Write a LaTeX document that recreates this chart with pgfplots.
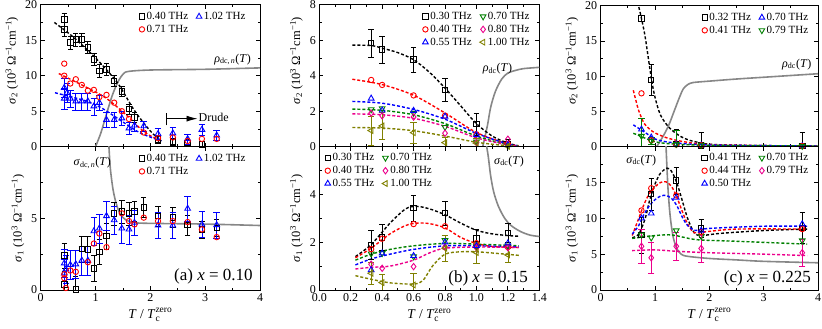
\documentclass[border=0pt]{standalone}
\usepackage{fontspec}
\setmainfont{Liberation Serif}
\usepackage{amsmath}
\usepackage{pgfplots}
\pgfplotsset{compat=1.18}
\usetikzlibrary{arrows.meta}

\definecolor{dgreen}{RGB}{0,128,0}
\definecolor{olivec}{RGB}{128,128,0}
\definecolor{dcgray}{RGB}{135,135,135}

\pgfplotsset{
  panel/.style={scale only axis, axis line style={line width=0.9pt},
    tick align=inside, major tick length=4pt, minor tick length=2.2pt,
    every tick/.style={black,line width=0.8pt},
    tick label style={font=\fontsize{12}{12}\selectfont},
    ylabel style={font=\fontsize{12.5}{12.5}\selectfont},
    xlabel style={font=\fontsize{13.5}{13.5}\selectfont},
    /pgf/number format/assume math mode=true,
    legend style={draw=none, fill=none, font=\fontsize{11}{11}\selectfont,
      legend columns=2, /tikz/every even column/.append style={column sep=6pt},
      inner sep=1pt, row sep=0pt},
  },
  toppanel/.style={panel, ylabel style={xshift=15pt}},
  dat/.style={only marks, mark size=2.7pt, line width=0.9pt, mark options={solid, fill=white}},
  err/.style={dat, error bars/y dir=both, error bars/y explicit,
    error bars/error bar style={line width=0.7pt}},
  fit/.style={dash pattern=on 3pt off 2pt, line width=1.4pt, no markers, forget plot, smooth},
  dcl/.style={dcgray, line width=1.6pt, no markers, forget plot, smooth},
}
\newcommand{\sigtwo}{\textit{σ}$_{\text{2}}$ (10$^{\text{3}}$ Ω$^{\text{−1}}$cm$^{\text{−1}}$)}
\newcommand{\sigone}{\textit{σ}$_{\text{1}}$ (10$^{\text{3}}$ Ω$^{\text{−1}}$cm$^{\text{−1}}$)}
\newcommand{\tlab}{\textit{T} / \textit{T}$_{\text{c}}^{\text{zero}}$}

\begin{document}
\begin{tikzpicture}
\useasboundingbox (0,0) rectangle (822pt,329pt);

% ---------- (a) top
\begin{axis}[toppanel, at={(40.7pt,182.3pt)}, anchor=south west, width=219.3pt, height=142pt,
  xmin=0, xmax=4, ymin=0, ymax=20, xtick={0,1,2,3,4}, xticklabels={}, minor x tick num=1,
  ytick={0,5,10,15,20}, minor y tick num=1, ylabel={\sigtwo},
  legend style={at={(0.444,0.97)}, anchor=north west}]
\addplot[dcl] coordinates {(1.0,0)(1.1,2)(1.2,4.6)(1.3,7.1)(1.4,9.0)(1.5,10.2)(1.6,10.6)(2.0,10.8)(3.0,10.9)(4.0,11.1)};
\addplot[fit, black] coordinates {(0.25,17.5)(0.6,15.4)(1.0,12.5)(1.4,9.0)(1.7,5.2)(2.0,2.2)(2.2,0.8)};
\addplot[fit, red] coordinates {(0.33,10.3)(0.8,8.5)(1.2,6.8)(1.6,4.2)(1.9,2.0)(2.2,0.8)};
\addplot[fit, blue] coordinates {(0.26,7.6)(0.8,6.5)(1.1,5.5)(1.4,4.0)(1.8,2.0)(2.2,0.8)};
\addplot[err, black, mark=square] coordinates {
 (0.43,17.9)+-(0,0.9) (0.43,16.5)+-(0,1.0) (0.54,14.7)+-(0,0.9) (0.64,15.1)+-(0,0.9)
 (0.75,15.1)+-(0,0.9) (0.86,14.0)+-(0,0.8) (0.97,12.3)+-(0,0.8) (1.07,10.7)+-(0,0.9)
 (1.20,10.9)+-(0,0.8) (1.34,9.3)+-(0,0.8) (1.48,7.8)+-(0,0.7) (1.61,5.3)+-(0,0.7)
 (1.71,4.1)+-(0,0.7) (2.14,1.0)+-(0,0.5) (2.41,0.7)+-(0,0.5) (2.68,0.5)+-(0,0.5) (2.94,0.3)+-(0,0.5)};
\addlegendentry{0.40 THz}
\addplot[err, blue, mark=triangle, mark size=3.3pt] coordinates {
 (0.43,8.3)+-(0,1.3) (0.43,6.8)+-(0,1.5) (0.48,7.6)+-(0,1.3) (0.54,6.8)+-(0,1.2) (0.64,6.4)+-(0,1.2)
 (0.75,6.4)+-(0,1.2) (0.86,6.4)+-(0,1.2) (0.97,5.7)+-(0,1.2) (1.07,6.2)+-(0,1.0) (1.20,3.8)+-(0,1.0)
 (1.34,3.8)+-(0,1.0) (1.48,4.0)+-(0,1.0) (1.61,2.6)+-(0,0.8) (1.71,3.0)+-(0,0.8) (1.88,2.9)+-(0,0.7)
 (2.14,1.8)+-(0,0.8) (2.41,1.9)+-(0,0.8) (2.68,1.1)+-(0,0.7) (2.94,2.4)+-(0,0.8) (3.21,1.6)+-(0,0.7)};
\addlegendentry{1.02 THz}
\addplot[dat, red, mark=o] coordinates {
 (0.43,11.7)(0.43,10.0)(0.54,8.9)(0.64,9.5)(0.75,8.7)(0.86,7.9)(0.97,8.0)(1.07,7.0)(1.20,7.3)
 (1.34,6.2)(1.48,5.0)(1.61,3.9)(1.88,2.0)(2.14,1.2)(2.41,1.3)(2.68,0.8)(2.94,1.1)(3.21,1.1)};
\addlegendentry{0.71 THz}
\node[font=\fontsize{12}{12}\selectfont] at (axis cs:3.5,12.3) {\textit{ρ}$_{\text{dc,\,\textit{n}}}$(\textit{T})};
\draw[line width=0.8pt] (axis cs:2.3,3.0) -- (axis cs:2.3,4.7);
\draw[line width=0.8pt, -{Latex[length=11pt,width=6pt]}] (axis cs:2.3,3.95) -- (axis cs:2.86,3.95);
\node[font=\fontsize{12}{12}\selectfont, anchor=west, inner sep=1pt] at (axis cs:2.86,4.1) {Drude};
\end{axis}

% ---------- (a) bottom
\begin{axis}[panel, at={(40.7pt,39pt)}, anchor=south west, width=219.3pt, height=143.3pt,
  xmin=0, xmax=4, ymin=0, ymax=10, xtick={0,1,2,3,4}, minor x tick num=1,
  ytick={0,5}, minor ytick={2.5,7.5}, ylabel={\sigone}, xlabel={\tlab},
  legend style={at={(0.444,0.97)}, anchor=north west}]
\addplot[dcl] coordinates {(1.24,10.3)(1.27,8.5)(1.32,7.0)(1.38,6.0)(1.45,5.3)(1.55,4.9)(1.7,4.7)(2.0,4.65)(3.0,4.6)(4.0,4.5)};
\addplot[err, black, mark=square] coordinates {
 (0.43,2.4)+-(0,0.9) (0.43,0.4)+-(0,0.9) (0.64,0.05)+-(0,0.9) (0.75,2.87)+-(0,0.9) (0.86,2.83)+-(0,0.9)
 (0.97,1.5)+-(0,0.9) (1.07,2.67)+-(0,0.9) (1.20,3.78)+-(0,0.9) (1.34,5.35)+-(0,0.8) (1.48,5.47)+-(0,0.8)
 (1.61,5.35)+-(0,0.8) (1.71,5.47)+-(0,0.7) (1.88,5.75)+-(0,0.7) (2.14,5.17)+-(0,0.7) (2.41,5.05)+-(0,0.7)
 (2.68,4.54)+-(0,0.7) (2.94,4.23)+-(0,0.6) (3.21,4.35)+-(0,0.6)};
\addlegendentry{0.40 THz}
\addplot[err, blue, mark=triangle, mark size=3.3pt] coordinates {
 (0.43,1.17)+-(0,1.0) (0.43,1.87)+-(0,1.0) (0.46,1.45)+-(0,1.0) (0.54,1.76)+-(0,1.0) (0.64,1.8)+-(0,1.0)
 (0.75,2.06)+-(0,1.0) (0.86,2.06)+-(0,1.0) (0.97,4.11)+-(0,1.0) (1.07,4.3)+-(0,1.0) (1.20,5.17)+-(0,1.0)
 (1.34,4.88)+-(0,1.0) (1.48,4.3)+-(0,1.0) (1.61,4.23)+-(0,1.0) (1.71,4.7)+-(0,0.9) (2.14,4.51)+-(0,0.9)
 (2.41,4.51)+-(0,0.9) (2.68,5.68)+-(0,0.9) (2.94,4.58)+-(0,0.9) (3.21,4.54)+-(0,0.9)};
\addlegendentry{1.02 THz}
\addplot[dat, red, mark=o] coordinates {
 (0.43,1.1)(0.43,0.82)(0.46,0.14)(0.54,1.36)(0.64,1.27)(0.86,1.94)(0.97,3.24)(1.07,3.94)(1.20,2.99)
 (1.48,5.35)(1.61,4.81)(1.71,4.58)(1.88,5.05)(2.14,4.81)(2.41,4.81)(2.68,4.74)(2.94,4.23)(3.21,3.69)};
\addlegendentry{0.71 THz}
\node[font=\fontsize{12}{12}\selectfont] at (axis cs:0.94,8.87) {\textit{σ}$_{\text{dc,\,\textit{n}}}$(\textit{T})};
\node[font=\fontsize{17}{17}\selectfont] at (axis cs:3.15,0.95) {(a) \textit{x} = 0.10};
\end{axis}

% ---------- (b) top
\begin{axis}[toppanel, at={(319.3pt,182.3pt)}, anchor=south west, width=220pt, height=142pt,
  xmin=0, xmax=1.4, ymin=0, ymax=8, xtick={0,0.2,...,1.4}, xticklabels={}, minor x tick num=1,
  ytick={0,2,4,6,8}, minor y tick num=1, ylabel={\sigtwo},
  legend style={at={(0.97,0.97)}, anchor=north east}]
\addplot[dcl] coordinates {(1.04,0)(1.07,1.2)(1.09,2.2)(1.12,3.1)(1.16,3.8)(1.2,4.15)(1.25,4.3)(1.3,4.4)(1.4,4.47)};
\addplot[fit, black] coordinates {(0.21,5.72)(0.33,5.7)(0.4,5.55)(0.5,5.3)(0.6,4.9)(0.7,4.2)(0.8,3.3)(0.9,2.3)(1.0,1.3)(1.1,0.6)(1.2,0.2)(1.27,0.05)};
\addplot[fit, red] coordinates {(0.21,3.8)(0.4,3.5)(0.6,2.9)(0.8,1.9)(1.0,0.8)(1.2,0.15)(1.27,0.05)};
\addplot[fit, blue] coordinates {(0.21,2.55)(0.4,2.45)(0.6,2.1)(0.8,1.55)(1.0,0.75)(1.2,0.15)(1.27,0.05)};
\addplot[fit, dgreen] coordinates {(0.21,2.12)(0.4,2.05)(0.6,1.8)(0.8,1.3)(1.0,0.6)(1.2,0.1)(1.27,0.03)};
\addplot[fit, magenta] coordinates {(0.21,1.85)(0.4,1.8)(0.6,1.6)(0.8,1.15)(1.0,0.5)(1.2,0.1)(1.27,0.03)};
\addplot[fit, olivec] coordinates {(0.21,1.08)(0.4,1.05)(0.6,0.9)(0.8,0.6)(1.0,0.25)(1.2,0.05)(1.27,0.02)};
\addplot[err, black, mark=square] coordinates {
 (0.33,5.83)+-(0,0.8) (0.4,5.48)+-(0,0.75) (0.6,4.92)+-(0,0.7) (0.8,3.21)+-(0,0.65) (1.0,1.27)+-(0,0.6) (1.2,0.15)+-(0,0.3)};
\addlegendentry{0.30 THz}
\addplot[dat, dgreen, mark=triangle, mark size=3.3pt, mark options={solid, fill=white, rotate=180}] coordinates {
 (0.33,2.1)(0.4,2.16)(0.6,1.9)(0.8,1.1)(1.0,0.28)(1.2,0.05)};
\addlegendentry{0.70 THz}
\addplot[dat, red, mark=o] coordinates {(0.33,3.76)(0.4,3.48)(0.6,2.89)(0.8,1.75)(1.0,0.7)(1.2,0.15)};
\addlegendentry{0.40 THz}
\addplot[dat, magenta, mark=diamond, mark size=3.2pt] coordinates {(0.33,1.89)(0.4,1.74)(0.6,1.67)(0.8,0.76)(1.0,0.23)(1.2,0.42)};
\addlegendentry{0.80 THz}
\addplot[dat, blue, mark=triangle, mark size=3.3pt] coordinates {(0.33,2.72)(0.4,2.05)(0.6,2.03)(0.8,1.70)(1.0,0.66)(1.2,0.1)};
\addlegendentry{0.55 THz}
\addplot[err, olivec, mark=triangle, mark size=3.3pt, mark options={solid, fill=white, rotate=90}] coordinates {
 (0.33,0.91)+-(0,0.8) (0.4,1.17)+-(0,0.75) (0.6,0.79)+-(0,0.6) (0.8,0.23)+-(0,0.3) (1.0,0.2)+-(0,0.3) (1.2,0.02)+-(0,0.2)};
\addlegendentry{1.00 THz}
\node[font=\fontsize{12}{12}\selectfont] at (axis cs:1.134,4.41) {\textit{ρ}$_{\text{dc}}$(\textit{T})};
\end{axis}

% ---------- (b) bottom
\begin{axis}[panel, at={(319.3pt,39pt)}, anchor=south west, width=220pt, height=143.3pt,
  xmin=0, xmax=1.4, ymin=0, ymax=6, xtick={0,0.2,...,1.4}, minor x tick num=1,
  xticklabel style={/pgf/number format/.cd, fixed, fixed zerofill, precision=1},
  ytick={0,2,4}, minor ytick={1,3,5}, ylabel={\sigone}, xlabel={\tlab},
  legend style={at={(0.02,0.975)}, anchor=north west}]
\addplot[dcl] coordinates {(1.06,6.2)(1.075,5.6)(1.09,4.8)(1.11,4.1)(1.14,3.5)(1.18,3.0)(1.22,2.7)(1.28,2.45)(1.34,2.3)(1.4,2.24)};
\addplot[fit, black] coordinates {(0.23,1.4)(0.33,1.9)(0.45,2.8)(0.55,3.4)(0.62,3.5)(0.7,3.4)(0.8,3.15)(0.9,2.8)(1.0,2.5)(1.1,2.35)(1.2,2.28)(1.27,2.25)};
\addplot[fit, red] coordinates {(0.23,1.35)(0.33,1.75)(0.45,2.35)(0.55,2.7)(0.62,2.8)(0.7,2.78)(0.8,2.6)(0.9,2.2)(1.0,1.95)(1.1,1.82)(1.27,1.78)};
\addplot[fit, dgreen] coordinates {(0.23,1.25)(0.33,1.5)(0.45,1.7)(0.6,1.85)(0.8,1.95)(1.0,1.92)(1.27,1.85)};
\addplot[fit, blue] coordinates {(0.23,1.05)(0.33,1.3)(0.45,1.5)(0.6,1.7)(0.8,1.85)(1.0,1.85)(1.27,1.8)};
\addplot[fit, magenta] coordinates {(0.23,0.88)(0.33,0.95)(0.45,1.0)(0.6,1.25)(0.7,1.55)(0.8,1.75)(1.0,1.8)(1.27,1.78)};
\addplot[fit, olivec] coordinates {(0.23,0.6)(0.33,0.45)(0.45,0.3)(0.6,0.25)(0.66,0.4)(0.72,1.0)(0.8,1.5)(0.9,1.6)(1.0,1.6)(1.1,1.55)(1.27,1.45)};
\addplot[err, black, mark=square] coordinates {
 (0.33,1.89)+-(0,0.6) (0.4,2.2)+-(0,0.55) (0.6,3.44)+-(0,0.55) (0.8,3.23)+-(0,0.5) (1.0,2.15)+-(0,0.4) (1.2,2.39)+-(0,0.4)};
\addlegendentry{0.30 THz}
\addplot[dat, dgreen, mark=triangle, mark size=3.3pt, mark options={solid, fill=white, rotate=180}] coordinates {
 (0.33,1.52)(0.4,1.54)(0.6,1.40)(0.8,2.08)(1.0,1.82)(1.2,1.85)};
\addlegendentry{0.70 THz}
\addplot[dat, red, mark=o] coordinates {(0.33,1.71)(0.4,2.15)(0.6,2.76)(0.8,2.67)(1.0,1.96)(1.2,1.80)};
\addlegendentry{0.40 THz}
\addplot[dat, magenta, mark=diamond, mark size=3.2pt] coordinates {(0.33,1.08)(0.4,0.91)(0.6,0.98)(0.8,1.80)(1.0,1.77)(1.2,1.77)};
\addlegendentry{0.80 THz}
\addplot[dat, blue, mark=triangle, mark size=3.3pt] coordinates {(0.33,0.84)(0.4,1.54)(0.6,1.43)(0.8,2.0)(1.0,1.85)(1.2,1.96)};
\addlegendentry{0.55 THz}
\addplot[err, olivec, mark=triangle, mark size=3.3pt, mark options={solid, fill=white, rotate=90}] coordinates {
 (0.33,0.70)+-(0,0.45) (0.4,0.31)+-(0,0.35) (0.6,0.21)+-(0,0.5) (0.8,1.75)+-(0,0.55) (1.0,1.57)+-(0,0.45) (1.2,1.47)+-(0,0.3)};
\addlegendentry{1.00 THz}
\node[font=\fontsize{12}{12}\selectfont] at (axis cs:1.207,5.39) {\textit{σ}$_{\text{dc}}$(\textit{T})};
\node[font=\fontsize{17}{17}\selectfont] at (axis cs:1.074,0.48) {(b) \textit{x} = 0.15};
\end{axis}

% ---------- (c) top
\begin{axis}[toppanel, at={(600.7pt,182.3pt)}, anchor=south west, width=217.3pt, height=141pt,
  xmin=0, xmax=4, ymin=0, ymax=20, xtick={0,1,2,3,4}, xticklabels={}, minor x tick num=1,
  ytick={0,5,10,15,20}, minor y tick num=1, ylabel={\sigtwo},
  legend style={at={(0.97,0.97)}, anchor=north east}]
\addplot[dcl] coordinates {(1.03,0)(1.15,1.5)(1.25,3.0)(1.35,5.0)(1.45,7.0)(1.52,8.2)(1.6,8.8)(1.7,9.1)(2.0,9.3)(2.5,9.6)(3.0,9.85)(3.5,10.1)(4.0,10.35)};
\addplot[fit, black] coordinates {(0.68,20.5)(0.75,18.2)(0.82,15.5)(0.93,9.8)(1.0,7.0)(1.1,4.5)(1.25,2.8)(1.43,1.65)(1.6,1.0)(1.8,0.6)(2.0,0.35)(2.5,0.2)(3.0,0.15)(4.0,0.1)};
\addplot[fit, red] coordinates {(0.6,8.0)(0.65,6.5)(0.7,5.1)(0.8,3.3)(0.9,2.5)(1.0,1.95)(1.2,1.3)(1.4,0.9)(1.7,0.5)(2.0,0.3)(3.0,0.15)(4.0,0.1)};
\addplot[fit, blue] coordinates {(0.6,3.1)(0.7,2.6)(0.82,2.0)(1.0,1.1)(1.2,0.7)(1.5,0.45)(2.0,0.25)(3.0,0.15)(4.0,0.1)};
\addplot[fit, dgreen] coordinates {(0.6,1.9)(0.7,1.6)(0.82,1.2)(1.0,0.7)(1.3,0.4)(2.0,0.2)(4.0,0.1)};
\addplot[err, black, mark=square] coordinates {
 (0.75,18.2)+-(0,0.4) (0.93,9.46)+-(0,2.2) (1.39,0.38)+-(0,2.1) (1.85,0.2)+-(0,1.8) (3.71,0.1)+-(0,1.9)};
\addlegendentry{0.32 THz}
\addplot[dat, blue, mark=triangle, mark size=3.3pt] coordinates {(0.75,2.46)(0.93,1.33)(1.39,0.35)(1.85,0.2)(3.71,0.1)};
\addlegendentry{0.70 THz}
\addplot[dat, red, mark=o] coordinates {(0.75,7.57)(0.93,0.9)(1.39,0.3)(1.85,0.2)(3.71,0.1)};
\addlegendentry{0.41 THz}
\addplot[err, dgreen, mark=triangle, mark size=3.3pt, mark options={solid, fill=white, rotate=180}] coordinates {
 (0.75,1.52)+-(0,2.5) (0.93,0.8)+-(0,0.5) (1.39,0.35)+-(0,2.0) (1.85,0.25)+-(0,0.3) (3.71,0.1)+-(0,0.2)};
\addlegendentry{0.79 THz}
\node[font=\fontsize{12}{12}\selectfont] at (axis cs:3.61,11.7) {\textit{ρ}$_{\text{dc}}$(\textit{T})};
\end{axis}

% ---------- (c) bottom
\begin{axis}[panel, at={(600.7pt,39pt)}, anchor=south west, width=217.3pt, height=143.3pt,
  xmin=0, xmax=4, ymin=0, ymax=20, xtick={0,1,2,3,4}, minor x tick num=1,
  ytick={0,5,10,15}, minor ytick={2.5,7.5,12.5,17.5}, ylabel={\sigone}, xlabel={\tlab},
  legend style={at={(0.97,0.975)}, anchor=north east}]
\addplot[dcl] coordinates {(1.2,20.5)(1.22,17)(1.24,14)(1.27,11)(1.3,9)(1.34,7.2)(1.4,5.8)(1.48,5.0)(1.6,4.7)(2.0,4.4)(2.5,4.2)(3.0,4.0)(4.0,3.8)};
\addplot[fit, black] coordinates {(0.58,7.3)(0.7,7.8)(0.82,10.0)(0.9,12.5)(1.0,14.8)(1.1,16.3)(1.22,17.0)(1.3,16.6)(1.4,15.0)(1.5,12.5)(1.6,10.0)(1.72,8.0)(1.85,7.6)(2.2,7.9)(3.0,8.3)(3.8,8.5)};
\addplot[fit, red] coordinates {(0.58,7.6)(0.7,10.0)(0.8,12.0)(0.9,13.5)(1.0,14.4)(1.1,15.0)(1.2,15.1)(1.3,14.5)(1.4,13.0)(1.5,11.0)(1.6,9.2)(1.72,8.0)(1.9,8.1)(2.5,8.5)(3.8,8.5)};
\addplot[fit, blue] coordinates {(0.58,7.8)(0.7,9.0)(0.8,10.6)(0.9,11.8)(1.0,12.6)(1.1,13.1)(1.2,13.2)(1.3,12.8)(1.4,11.8)(1.5,10.2)(1.6,9.0)(1.75,8.3)(2.0,8.6)(3.0,8.9)(3.8,8.9)};
\addplot[fit, dgreen] coordinates {(0.58,7.2)(1.0,7.6)(1.3,7.7)(1.5,7.4)(1.8,7.0)(2.5,6.8)(3.8,6.4)};
\addplot[fit, magenta] coordinates {(0.58,5.5)(1.0,5.6)(1.4,5.4)(2.0,5.2)(3.0,5.0)(3.8,4.8)};
\addplot[err, black, mark=square] coordinates {
 (0.75,7.7)+-(0,2.5) (0.93,13.4)+-(0,2.2) (1.39,15.3)+-(0,1.9) (1.85,8.6)+-(0,1.3) (3.71,8.7)+-(0,2.2)};
\addlegendentry{0.41 THz}
\addplot[dat, dgreen, mark=triangle, mark size=3.3pt, mark options={solid, fill=white, rotate=180}] coordinates {
 (0.75,7.7)(0.93,7.3)(1.39,8.3)(1.85,7.5)(3.71,6.9)};
\addlegendentry{0.70 THz}
\addplot[dat, red, mark=o] coordinates {(0.75,11.1)(0.93,14.2)(1.39,13.2)(1.85,8.1)(3.71,8.5)};
\addlegendentry{0.44 THz}
\addplot[err, magenta, mark=diamond, mark size=3.2pt] coordinates {
 (0.75,6.1)+-(0,2.4) (0.93,4.5)+-(0,2.2) (1.39,6.1)+-(0,2.0) (1.85,5.8)+-(0,1.9) (3.71,5.2)+-(0,1.9)};
\addlegendentry{0.79 THz}
\addplot[dat, blue, mark=triangle, mark size=3.3pt] coordinates {(0.75,10.0)(0.93,10.7)(1.39,12.9)(1.85,8.3)(3.71,9.2)};
\addlegendentry{0.50 THz}
\node[font=\fontsize{12}{12}\selectfont] at (axis cs:0.745,18.1) {\textit{σ}$_{\text{dc}}$(\textit{T})};
\node[font=\fontsize{17}{17}\selectfont] at (axis cs:3.07,1.64) {(c) \textit{x} = 0.225};
\end{axis}
\end{tikzpicture}
\end{document}
